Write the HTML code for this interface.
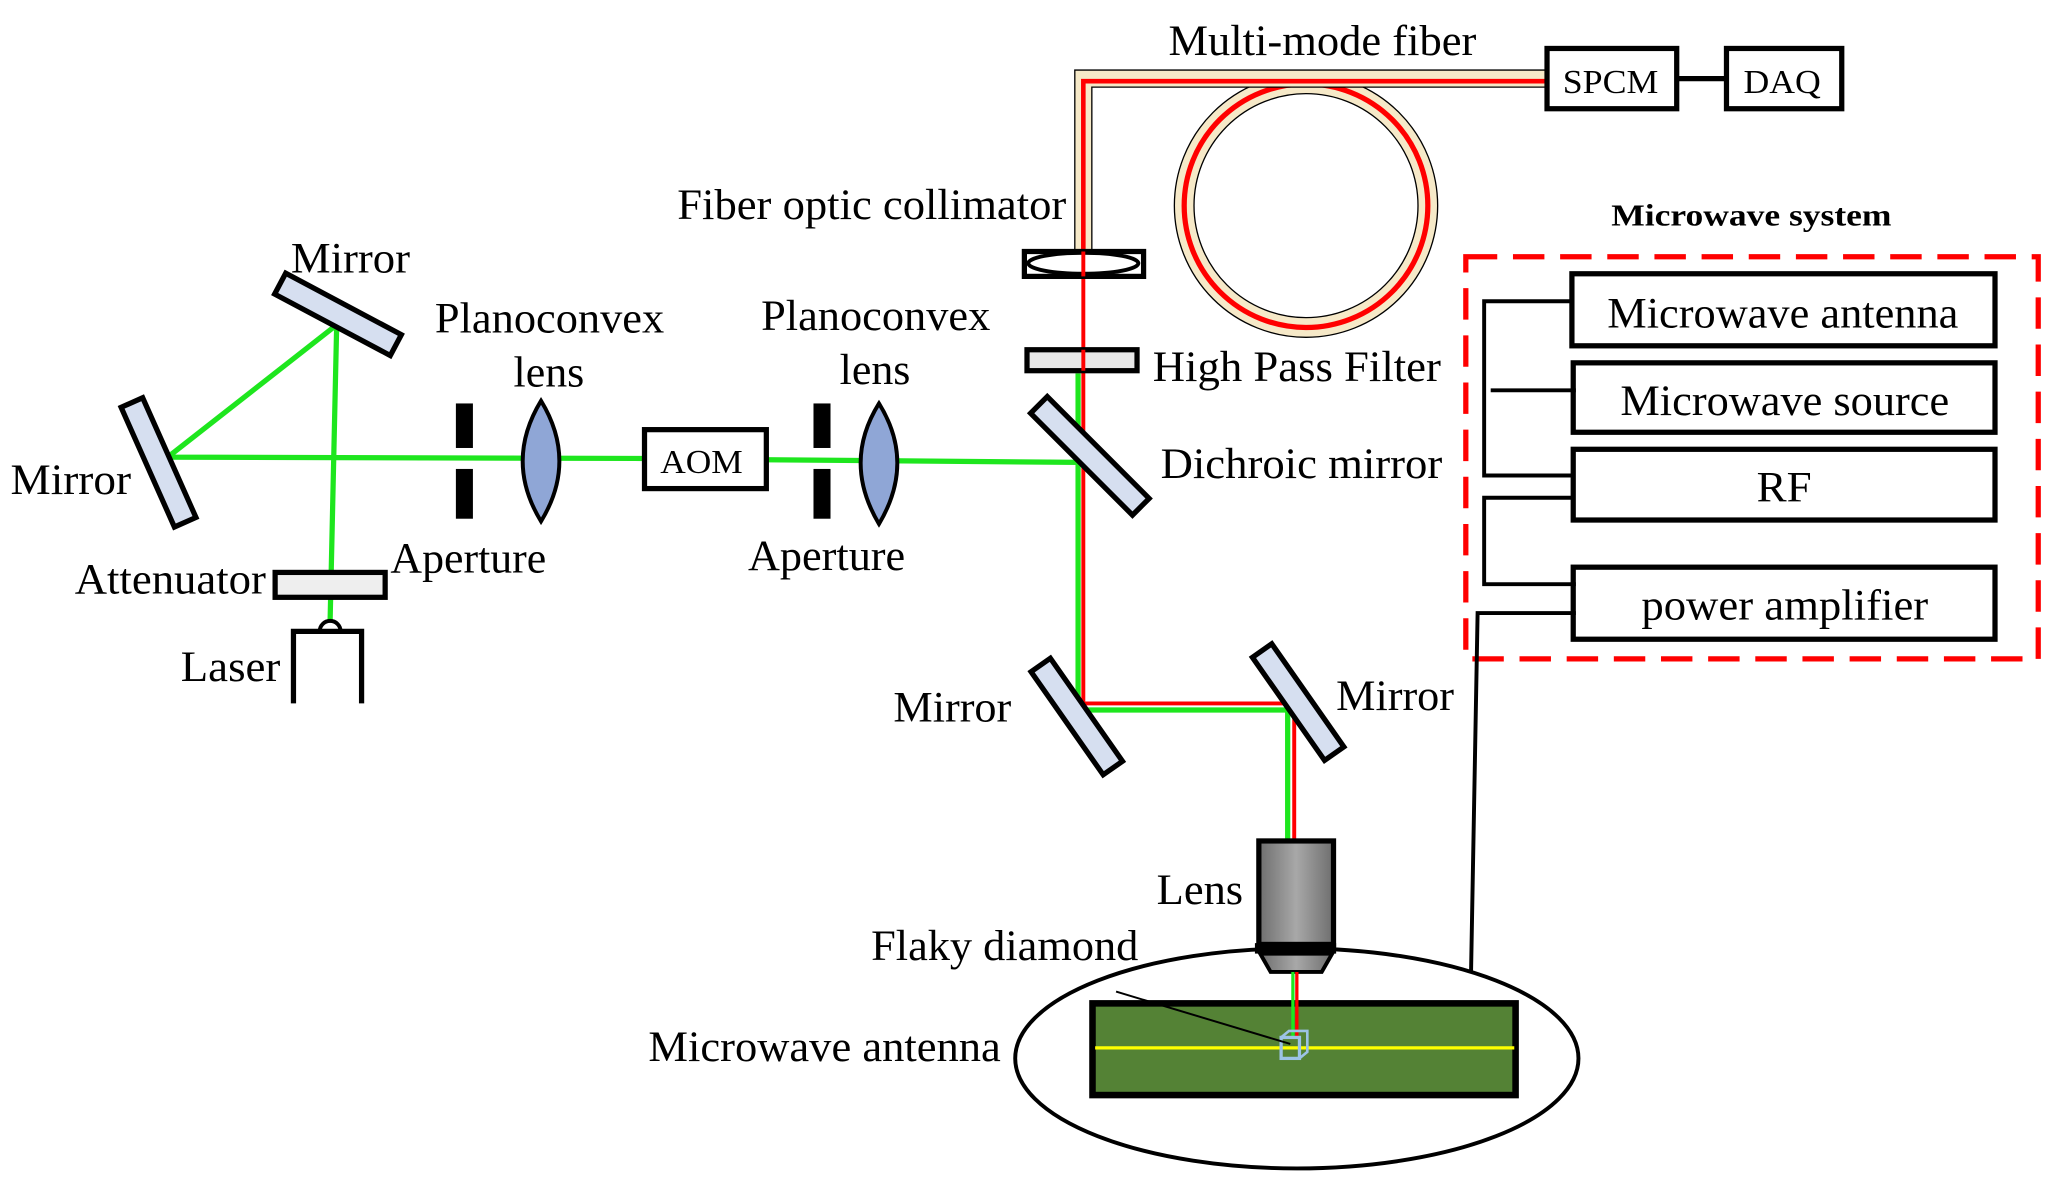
<!DOCTYPE html>
<html><head><meta charset="utf-8"><style>html,body{margin:0;padding:0;background:#fff}svg{display:block}</style></head>
<body>
<svg width="2054" height="1192" viewBox="0 0 1568 910" xmlns="http://www.w3.org/2000/svg" font-family="Liberation Serif, serif">
<defs>
<linearGradient id="g" x1="0" x2="1"><stop offset="0" stop-color="#6e6e6e"/><stop offset="0.5" stop-color="#a8a8a8"/><stop offset="1" stop-color="#6e6e6e"/></linearGradient>
</defs>
<rect width="1568" height="910" fill="#fff"/>
<circle cx="997" cy="157" r="93" fill="none" stroke="#000" stroke-width="16"/>
<circle cx="997" cy="157" r="93" fill="none" stroke="#f6e9c8" stroke-width="14"/>
<circle cx="997" cy="157" r="93" fill="none" stroke="#f00" stroke-width="4"/>
<path d="M827,192 V60 H1180" fill="none" stroke="#000" stroke-width="14"/>
<path d="M827,192 V60 H1180" fill="none" stroke="#f6e9c8" stroke-width="12"/>
<path d="M827,192 V62 H1180" fill="none" stroke="#f00" stroke-width="3.5"/>
<g stroke="#1ee61e" stroke-width="4" fill="none">
<path d="M252,473 L257,248 L128,349 L492,350"/>
<path d="M585,351 L825,353"/>
<path d="M823,285 V542 H983 V642"/>
</g>
<g stroke="#f00" stroke-width="3" fill="none">
<path d="M827,192 V537 H988 V642"/>
</g>
<g fill="#d6dff0" stroke="#000" stroke-width="4">
<rect x="-50" y="-9" width="100" height="18" transform="translate(258,240) rotate(28)"/>
<rect x="-50" y="-9" width="100" height="18" transform="translate(121,353) rotate(66)"/>
<rect x="-55" y="-9" width="110" height="18" transform="translate(832,348) rotate(45)"/>
<rect x="-48" y="-9" width="96" height="18" transform="translate(822,547) rotate(55)"/>
<rect x="-48" y="-9" width="96" height="18" transform="translate(991,536) rotate(55)"/>
</g>
<g fill="#000"><rect x="348" y="308" width="13" height="34"/><rect x="348" y="358" width="13" height="38"/>
<rect x="621" y="308" width="13" height="34"/><rect x="621" y="358" width="13" height="38"/></g>
<g fill="#8fa6d6" stroke="#000" stroke-width="3">
<path d="M413,306 Q441,352 413,398 Q385,352 413,306Z"/>
<path d="M671,308 Q699,353 671,400 Q643,353 671,308Z"/>
</g>
<rect x="492" y="328" width="93" height="45" fill="#fff" stroke="#000" stroke-width="4"/>
<text x="504" y="361" font-size="26" textLength="63" lengthAdjust="spacingAndGlyphs">AOM</text>
<rect x="210" y="437" width="84" height="19" fill="#eee" stroke="#000" stroke-width="4"/>
<path d="M244,482 A8,8 0 0 1 260,482" fill="none" stroke="#000" stroke-width="3"/>
<path d="M224,537 V482 H276 V537" fill="none" stroke="#000" stroke-width="4"/>
<rect x="782" y="192" width="91" height="19" fill="#fff" stroke="#000" stroke-width="4"/>
<ellipse cx="827" cy="201" rx="42" ry="8" fill="none" stroke="#000" stroke-width="3"/>
<line x1="827" y1="192" x2="827" y2="211" stroke="#f00" stroke-width="3"/>
<rect x="784" y="267" width="84" height="16" fill="#e8e8e8" stroke="#000" stroke-width="4"/>
<line x1="827" y1="267" x2="827" y2="283" stroke="#f00" stroke-width="3"/>
<rect x="961" y="642" width="57" height="79" fill="url(#g)" stroke="#000" stroke-width="4"/>
<rect x="958" y="720" width="62" height="8" fill="#000"/>
<path d="M962,728 H1017 L1009,742 H970Z" fill="url(#g)" stroke="#000" stroke-width="3"/>
<ellipse cx="990" cy="808" rx="215" ry="84" fill="none" stroke="#000" stroke-width="3"/>
<rect x="834" y="766" width="323" height="70" fill="#548235" stroke="#000" stroke-width="5"/>
<line x1="836" y1="800" x2="1156" y2="800" stroke="#ffff00" stroke-width="2.5"/>
<line x1="987" y1="742" x2="987" y2="792" stroke="#1ee61e" stroke-width="2.5"/>
<line x1="990" y1="742" x2="990" y2="792" stroke="#f00" stroke-width="2.5"/>
<rect x="978" y="792" width="14" height="16" fill="none" stroke="#9cc3e6" stroke-width="2.5"/>
<path d="M978,792 L984,787 H998 V803 L992,808" fill="none" stroke="#9cc3e6" stroke-width="2"/>
<line x1="852" y1="757" x2="985" y2="797" stroke="#000" stroke-width="1.5"/>
<rect x="1181" y="37" width="99" height="46" fill="#fff" stroke="#000" stroke-width="4"/>
<rect x="1318" y="37" width="88" height="46" fill="#fff" stroke="#000" stroke-width="4"/>
<line x1="1280" y1="60" x2="1318" y2="60" stroke="#000" stroke-width="4"/>
<text x="1193" y="71" font-size="26" textLength="73" lengthAdjust="spacingAndGlyphs">SPCM</text>
<text x="1331" y="71" font-size="26" textLength="59" lengthAdjust="spacingAndGlyphs">DAQ</text>
<text x="1230" y="172" font-size="23" font-weight="bold" textLength="214" lengthAdjust="spacingAndGlyphs">Microwave system</text>
<rect x="1119" y="196" width="437" height="307" fill="none" stroke="#f00" stroke-width="4" stroke-dasharray="24,12"/>
<g fill="#fff" stroke="#000" stroke-width="4">
<rect x="1200" y="209" width="323" height="55"/>
<rect x="1201" y="277" width="322" height="53"/>
<rect x="1201" y="343" width="322" height="54"/>
<rect x="1201" y="433" width="322" height="55"/>
</g>
<g fill="none" stroke="#000" stroke-width="3">
<path d="M1200,230 H1133 V363 H1201"/>
<path d="M1138,298 H1203"/>
<path d="M1201,380 H1133 V446 H1203"/>
<path d="M1203,468 H1128 L1123,742"/>
</g>
<g font-size="33" lengthAdjust="spacingAndGlyphs">
<text x="1227" y="250" textLength="268" lengthAdjust="spacingAndGlyphs">Microwave antenna</text>
<text x="1237" y="317" textLength="251" lengthAdjust="spacingAndGlyphs">Microwave source</text>
<text x="1341" y="383" textLength="42" lengthAdjust="spacingAndGlyphs">RF</text>
<text x="1253" y="473" textLength="219" lengthAdjust="spacingAndGlyphs">power amplifier</text>
<text x="892" y="42" textLength="235" lengthAdjust="spacingAndGlyphs">Multi-mode fiber</text>
<text x="517" y="167" textLength="297" lengthAdjust="spacingAndGlyphs">Fiber optic collimator</text>
<text x="222" y="208" textLength="91" lengthAdjust="spacingAndGlyphs">Mirror</text>
<text x="332" y="254" textLength="175" lengthAdjust="spacingAndGlyphs">Planoconvex</text>
<text x="392" y="295" textLength="54" lengthAdjust="spacingAndGlyphs">lens</text>
<text x="8" y="377" textLength="92" lengthAdjust="spacingAndGlyphs">Mirror</text>
<text x="581" y="252" textLength="175" lengthAdjust="spacingAndGlyphs">Planoconvex</text>
<text x="641" y="293" textLength="54" lengthAdjust="spacingAndGlyphs">lens</text>
<text x="298" y="437" textLength="119" lengthAdjust="spacingAndGlyphs">Aperture</text>
<text x="571" y="435" textLength="120" lengthAdjust="spacingAndGlyphs">Aperture</text>
<text x="57" y="453" textLength="146" lengthAdjust="spacingAndGlyphs">Attenuator</text>
<text x="138" y="520" textLength="76" lengthAdjust="spacingAndGlyphs">Laser</text>
<text x="880" y="291" textLength="220" lengthAdjust="spacingAndGlyphs">High Pass Filter</text>
<text x="886" y="365" textLength="215" lengthAdjust="spacingAndGlyphs">Dichroic mirror</text>
<text x="682" y="551" textLength="90" lengthAdjust="spacingAndGlyphs">Mirror</text>
<text x="1020" y="542" textLength="90" lengthAdjust="spacingAndGlyphs">Mirror</text>
<text x="883" y="690" textLength="66" lengthAdjust="spacingAndGlyphs">Lens</text>
<text x="665" y="733" textLength="204" lengthAdjust="spacingAndGlyphs">Flaky diamond</text>
<text x="495" y="810" textLength="269" lengthAdjust="spacingAndGlyphs">Microwave antenna</text>
</g>
</svg>
</body></html>
